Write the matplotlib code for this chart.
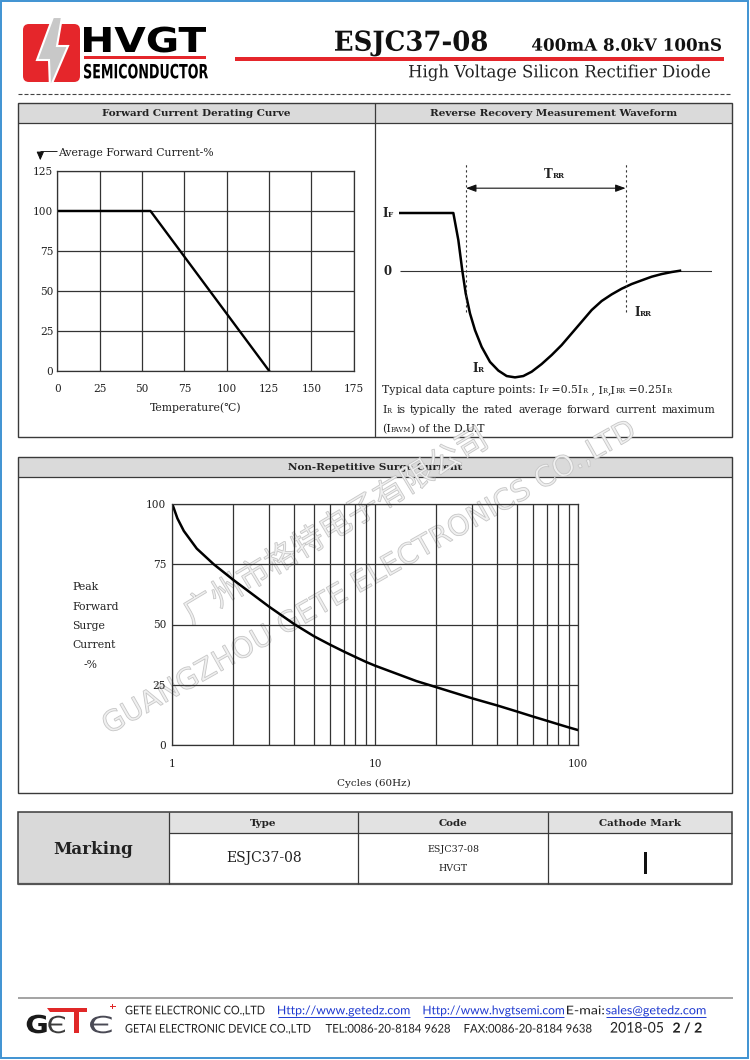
import matplotlib
matplotlib.use('Agg')
import matplotlib.pyplot as plt
from matplotlib.patches import Rectangle, FancyBboxPatch, Polygon, PathPatch
from matplotlib.textpath import TextPath
from matplotlib.font_manager import FontProperties
from matplotlib.transforms import Affine2D
from matplotlib.ticker import NullFormatter

SERIF = ['DejaVu Serif', 'DejaVu Sans']
plt.rcParams['font.family'] = SERIF

W, H = 750, 1060

# forward current derating curve
derate_temp = [0, 55, 125]
derate_pct = [100, 100, 0]
temp_ticks = [0, 25, 50, 75, 100, 125, 150, 175]
pct_ticks = [0, 25, 50, 75, 100, 125]

# non-repetitive surge current
surge_cycles = [1, 1.06, 1.14, 1.32, 1.6, 2, 3, 4, 5, 6, 7, 8, 9, 10, 16, 20, 30, 40, 50,
                60, 70, 80, 90, 100]
surge_pct = [100, 94.0, 88.8, 81.5, 75, 68.5, 57.4, 50.1, 45.1, 41.6, 38.8, 36.5, 34.5, 32.9,
             26.5, 24.0, 19.4, 16.4, 13.9, 11.8, 10.1, 8.6, 7.3, 6.2]
surge_yticks = [0, 25, 50, 75, 100]

# reverse recovery waveform (arbitrary time units, current relative to IF)
wave_t = [0, 17.36, 18.96, 20.23, 21.30, 22.68, 24.28, 26.41, 29.07, 31.73, 34.40, 37.06,
          39.72, 42.39, 45.58, 48.78, 51.97, 55.17, 58.36, 61.56, 64.75, 67.95, 71.14,
          74.33, 77.53, 80.72, 83.92, 87.11, 89.78]
wave_i = [1.0, 1.0, 0.53, 0.0, -0.39, -0.74, -1.03, -1.32, -1.58, -1.73, -1.825, -1.848,
          -1.825, -1.75, -1.617, -1.461, -1.288, -1.086, -0.884, -0.681, -0.525, -0.41,
          -0.312, -0.231, -0.167, -0.104, -0.058, -0.023, 0.0]
trr_start, trr_end = 21.4, 72.4

# marking table
mark_cols = ['Type', 'Code', 'Cathode Mark']
mark_type = 'ESJC37-08'
mark_code = ['ESJC37-08', 'HVGT']

fig = plt.figure(figsize=(7.5, 10.6), dpi=100)
pg = fig.add_axes([0, 0, 1, 1])
pg.set_xlim(0, W)
pg.set_ylim(H, 0)
pg.axis('off')
rend = fig.canvas.get_renderer()


def box(l, t, r, b):
    return [l / W, 1 - b / H, (r - l) / W, (b - t) / H]


def fit_text(s, x0, x1, base, cap, color='black', family='DejaVu Sans', weight='normal', z=3):
    fp = FontProperties(family=family, weight=weight)
    tp = TextPath((0, 0), s, size=100, prop=fp)
    hp = TextPath((0, 0), 'H', size=100, prop=fp)
    bb = tp.get_extents()
    sx = (x1 - x0) / bb.width
    sy = cap / hp.get_extents().y1
    tr = Affine2D().translate(-bb.x0, 0).scale(sx, -sy).translate(x0, base)
    pg.add_patch(PathPatch(tr.transform_path(tp), fc=color, ec='none', zorder=z))


def watermark(s, x, y, length, angle, family, weight='normal'):
    fp = FontProperties(family=family, weight=weight)
    tp = TextPath((0, 0), s, size=100, prop=fp)
    bb = tp.get_extents()
    k = length / bb.width
    tr = Affine2D().translate(-bb.x0, 0).scale(k, -k).rotate_deg(-angle).translate(x, y)
    pg.add_patch(PathPatch(tr.transform_path(tp), fc='#f0f0f0', ec='#c6c6c6', lw=0.6, zorder=6))


def runs(x, base, parts, size=8, weight='normal', color='#222222'):
    for s, small in parts:
        t = pg.text(x, base, s, fontsize=size * 0.62 if small else size, weight=weight,
                    va='baseline', ha='left', color=color, zorder=8)
        x += t.get_window_extent(rend).width
    return x


def justify(x0, x1, base, words, size=8):
    placed, widths = [], []
    for parts in words:
        ts, w = [], 0
        for s, small in parts:
            t = pg.text(0, base, s, fontsize=size * 0.62 if small else size,
                        va='baseline', ha='left', color='#222222', zorder=8)
            ts.append((t, w))
            w += t.get_window_extent(rend).width
        placed.append(ts)
        widths.append(w)
    gap = (x1 - x0 - sum(widths)) / (len(words) - 1)
    x = x0
    for ts, w in zip(placed, widths):
        for t, off in ts:
            t.set_x(x + off)
        x += w + gap


def hline(x0, x1, y, lw=0.9, color='#3a3a3a', **kw):
    pg.plot([x0, x1], [y, y], color=color, lw=lw, solid_capstyle='butt', **kw)


def vline(x, y0, y1, lw=0.9, color='#3a3a3a'):
    pg.plot([x, x], [y0, y1], color=color, lw=lw, solid_capstyle='butt')


# page border
pg.add_patch(Rectangle((1, 1), 747, 1057, fill=False, ec='#3f93d2', lw=1.4))

# ---- header ----
pg.add_patch(FancyBboxPatch((23, 24), 57, 58, boxstyle='round,pad=0,rounding_size=6',
                            fc='#e5262b', ec='none', zorder=2))
pg.add_patch(Polygon([(53, 17), (37, 60), (49, 60), (50, 88), (68, 46), (57, 46), (62, 17)],
                     closed=True, fc='#c8c8c8', ec='white', lw=1.5, zorder=3))
fit_text('HVGT', 84, 206, 52, 25, weight='bold')
pg.add_patch(Rectangle((84, 56), 122, 3, fc='#e5262b', ec='none'))
fit_text('SEMICONDUCTOR', 84, 208, 78.3, 14.3, weight='bold')

fit_text('ESJC37-08', 335, 487, 50.7, 20, family='DejaVu Serif', weight='bold', color='#111111')
fit_text('400mA 8.0kV 100nS', 532, 721, 50.7, 12.3, family='DejaVu Serif', weight='bold', color='#111111')
pg.add_patch(Rectangle((235, 56.5), 489, 4, fc='#e5262b', ec='none'))
fit_text('High Voltage Silicon Rectifier Diode', 409, 710, 77.3, 12.3, family='DejaVu Serif',
         color='#222222')
pg.plot([18, 730], [94, 94], color='#444444', lw=0.8, dashes=(3.6, 1.8))

# ---- top panels ----
pg.add_patch(Rectangle((18, 103), 357, 20, fc='#dadada', ec='none', zorder=1))
pg.add_patch(Rectangle((375, 103), 357, 20, fc='#dadada', ec='none', zorder=1))
pg.add_patch(Rectangle((18, 103), 714, 334, fill=False, ec='#3a3a3a', lw=1.0, zorder=2))
hline(18, 732, 123)
vline(375, 103, 437)
pg.text(196.5, 113.5, 'Forward Current Derating Curve', ha='center', va='center',
        fontsize=7.5, weight='bold', color='#222222')
pg.text(553.5, 113.5, 'Reverse Recovery Measurement Waveform', ha='center', va='center',
        fontsize=7.5, weight='bold', color='#222222')

# forward current derating chart
ax1 = fig.add_axes(box(57.3, 171, 353.7, 370.7))
ax1.patch.set_alpha(0)
ax1.set_xlim(0, 175)
ax1.set_ylim(0, 125)
ax1.set_xticks(temp_ticks)
ax1.set_yticks(pct_ticks)
ax1.grid(True, color='#333333', lw=0.9)
ax1.tick_params(length=0, labelsize=7.6, labelcolor='#222222')
ax1.tick_params(axis='x', pad=9.5)
ax1.tick_params(axis='y', pad=3)
for sp in ax1.spines.values():
    sp.set_color('#333333')
    sp.set_linewidth(0.9)
ax1.plot(derate_temp, derate_pct, color='black', lw=1.7)
pg.text(58.5, 153.5, 'Average Forward Current-%', va='center', fontsize=7.8, color='#222222')
hline(40, 57, 150.5, lw=0.7, color='#222222')
pg.annotate('', xy=(40.3, 163), xytext=(40.3, 150),
            arrowprops=dict(arrowstyle='-|>,head_length=0.5,head_width=0.22', color='#111111', lw=0.7))
pg.text(196, 408, 'Temperature(℃)', ha='center', va='center', fontsize=7.8, color='#222222')

# reverse recovery waveform
ax3 = fig.add_axes(box(399, 140, 712, 390))
ax3.set_xlim(0, 100)
ax3.set_ylim(-2.067, 2.265)
ax3.axis('off')
ax3.hlines(0, 0.3, 100, color='#333333', lw=0.8)
ax3.plot(wave_t, wave_i, color='black', lw=1.8, solid_joinstyle='round')
ax3.vlines([trr_start, trr_end], -0.71, 1.87, color='#333333', lw=0.8, linestyles=(0, (2, 2.5)))
ax3.annotate('', xy=(trr_start, 1.43), xytext=(trr_end, 1.43),
             arrowprops=dict(arrowstyle='<|-|>,head_length=0.6,head_width=0.22', color='#111111',
                             lw=0.8, shrinkA=0, shrinkB=0))
runs(382, 217, [('I', False), ('F', True)], size=8.5, weight='bold')
runs(383, 275, [('0', False)], size=8.5, weight='bold')
runs(544, 178.5, [('T', False), ('RR', True)], size=8.5, weight='bold')
runs(634, 315.5, [('I', False), ('RR', True)], size=8.5, weight='bold')
runs(472, 372, [('I', False), ('R', True)], size=8.5, weight='bold')

runs(382, 393, [('Typical data capture points: I', False), ('F', True), (' =0.5I', False), ('R', True),
                (' , I', False), ('R', True), (',I', False), ('RR', True), (' =0.25I', False), ('R', True)],
     size=7.8)
line2 = [[('I', False), ('R', True)], [('is', False)], [('typically', False)], [('the', False)],
         [('rated', False)], [('average', False)], [('forward', False)], [('current', False)],
         [('maximum', False)]]
justify(382, 715, 413, line2, size=7.8)
runs(382, 432.5, [('(I', False), ('FAVM', True), (') of the D.U.T', False)], size=7.8)

# ---- surge panel ----
pg.add_patch(Rectangle((18, 457), 714, 20, fc='#dadada', ec='none', zorder=1))
pg.add_patch(Rectangle((18, 457), 714, 336, fill=False, ec='#3a3a3a', lw=1.0, zorder=2))
hline(18, 732, 477)
pg.text(375, 467, 'Non-Repetitive Surge Current', ha='center', va='center',
        fontsize=7.5, weight='bold', color='#222222')

ax2 = fig.add_axes(box(172.3, 504, 578, 745))
ax2.patch.set_alpha(0)
ax2.set_xscale('log')
ax2.set_xlim(1, 100)
ax2.set_ylim(0, 100)
ax2.set_xticks([1, 10, 100], ['1', '10', '100'])
ax2.set_xticks([2, 3, 4, 5, 6, 7, 8, 9, 20, 30, 40, 50, 60, 70, 80, 90], minor=True)
ax2.xaxis.set_minor_formatter(NullFormatter())
ax2.set_yticks(surge_yticks)
ax2.grid(True, which='both', axis='x', color='#333333', lw=0.9)
ax2.grid(True, axis='y', color='#333333', lw=0.9)
ax2.tick_params(which='both', length=0, labelsize=7.6, labelcolor='#222222')
ax2.tick_params(axis='x', pad=10)
ax2.tick_params(axis='y', pad=4.5)
for sp in ax2.spines.values():
    sp.set_color('#333333')
    sp.set_linewidth(0.9)
ax2.plot(surge_cycles, surge_pct, color='black', lw=1.8, solid_joinstyle='round')
for txt, yy in zip(['Peak', 'Forward', 'Surge', 'Current'], [587, 606.5, 626, 645.5]):
    pg.text(72, yy, txt, va='center', fontsize=7.8, color='#222222')
pg.text(84, 665, '-%', va='center', fontsize=7.8, color='#222222')
pg.text(374, 783, 'Cycles (60Hz)', ha='center', va='center', fontsize=7.5, color='#222222')

# ---- marking table ----
pg.add_patch(Rectangle((18, 812), 151, 72, fc='#d9d9d9', ec='none', zorder=1))
pg.add_patch(Rectangle((169, 812), 563, 21, fc='#e2e2e2', ec='none', zorder=1))
pg.add_patch(Rectangle((18, 812), 714, 72, fill=False, ec='#3a3a3a', lw=1.1, zorder=2))
hline(18, 732, 884, lw=1.6, color='#555555')
hline(169, 732, 833.3)
for xx in [169, 358.2, 547.7]:
    vline(xx, 812, 884)
pg.text(93, 849, 'Marking', ha='center', va='center', fontsize=12, weight='bold', color='#222222')
for txt, xx in zip(mark_cols, [263.6, 453, 640]):
    pg.text(xx, 823, txt, ha='center', va='center', fontsize=7.5, weight='bold', color='#222222')
pg.text(263.6, 858, mark_type, ha='center', va='center', fontsize=10, color='#222222')
pg.text(453, 849.5, mark_code[0], ha='center', va='center', fontsize=6.8, color='#222222')
pg.text(453, 868.5, mark_code[1], ha='center', va='center', fontsize=6.8, color='#222222')
pg.add_patch(Rectangle((643.6, 852), 3.2, 21.5, fc='#111111', ec='none', zorder=3))

# ---- watermark ----
watermark('广州市格特电子有限公司', 192, 624, 345, 31, 'Noto Sans CJK SC', 'light')
watermark('GUANGZHOU GETE ELECTRONICS CO.,LTD', 110, 734, 605, 29.5, 'DejaVu Sans', 'normal')

# ---- footer ----
hline(18, 733, 997.5, lw=1.1, color='#8a8a8a')
fit_text('G', 26.7, 46.7, 1033, 18, color='#1a1a1a', weight='bold')
fit_text('Є', 48.3, 65, 1033, 17, color='#3c3c3c')
pg.add_patch(Polygon([(46.7, 1008), (86.7, 1008), (86.7, 1011.5), (50, 1011.5)], closed=True,
                     fc='#e02828', ec='none'))
pg.add_patch(Rectangle((74, 1010), 5, 23, fc='#e02828', ec='none'))
fit_text('Є', 90, 111.7, 1033, 17, color='#4a4a55')
fit_text('+', 110, 115.5, 1008.5, 5.5, color='#e02828', weight='bold')

BLUE = '#1f3ad0'
CAP = 8.6
foot1 = [('GETE ELECTRONIC CO.,LTD', 125.5, 264.5, '#222222', False),
         ('Http://www.getedz.com', 278, 409.5, BLUE, True),
         ('Http://www.hvgtsemi.com', 423.5, 564, BLUE, True),
         ('E-mai:', 567, 604, '#222222', False),
         ('sales@getedz.com', 606, 705.5, BLUE, True)]
for s, x0, x1, col, link in foot1:
    fit_text(s, x0, x1, 1014.3, CAP, color=col, family='Lato')
    if link:
        hline(x0, x1, 1016.6, lw=0.7, color=BLUE)
foot2 = [('GETAI ELECTRONIC DEVICE CO.,LTD', 125.5, 310.5),
         ('TEL:0086-20-8184 9628', 325.7, 450),
         ('FAX:0086-20-8184 9638', 464.6, 591.5)]
for s, x0, x1 in foot2:
    fit_text(s, x0, x1, 1032.6, CAP, color='#222222', family='Lato')
fit_text('2018-05', 610.6, 663, 1032.6, 10.5, color='#222222', family='Lato')
fit_text('2 / 2', 673, 701.6, 1032.6, 10, color='#222222', family='Lato', weight='bold')

fig.savefig('out.png', dpi=100)
